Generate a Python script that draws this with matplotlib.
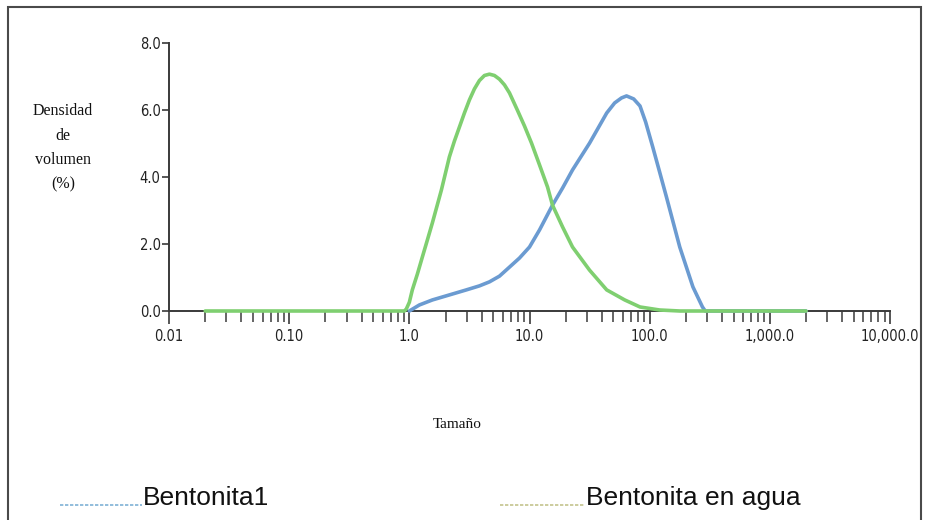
import matplotlib
matplotlib.use("Agg")
import matplotlib.pyplot as plt
from matplotlib.lines import Line2D
from matplotlib.patches import Rectangle

# Particle size distribution (size, volume density %)
bento_size = [1.0, 1.212, 1.555, 2.154, 2.98, 3.831, 4.642, 5.623, 6.813, 8.25, 10.0,
              12.12, 15.54, 18.84, 22.8, 31.6, 43.9, 51.1, 58.3, 64.2, 73.6, 83.1,
              92.6, 106, 121, 138, 178, 229, 275, 290, 2000]
bento_vol = [0.0, 0.18, 0.33, 0.48, 0.63, 0.75, 0.87, 1.04, 1.31, 1.58, 1.91,
             2.42, 3.16, 3.67, 4.21, 5.01, 5.91, 6.21, 6.36, 6.42, 6.33, 6.12,
             5.64, 4.90, 4.15, 3.40, 1.91, 0.72, 0.12, 0.0, 0.0]

agua_size = [0.02, 0.5, 0.909, 0.944, 1.0, 1.059, 1.166, 1.283, 1.413, 1.555, 1.848,
             2.154, 2.371, 2.61, 2.873, 3.162, 3.481, 3.831, 4.217, 4.642, 5.109,
             5.623, 6.19, 6.813, 7.943, 9.09, 10.4, 12.12, 14.13, 15.54, 18.84,
             22.8, 31.6, 43.9, 62.0, 83.1, 121, 178, 2000]
agua_vol = [0.0, 0.0, 0.0, 0.06, 0.26, 0.63, 1.10, 1.61, 2.12, 2.63, 3.61,
            4.60, 5.07, 5.49, 5.91, 6.30, 6.63, 6.88, 7.03, 7.07, 7.03,
            6.92, 6.75, 6.51, 5.99, 5.52, 5.01, 4.36, 3.70, 3.16, 2.51,
            1.91, 1.22, 0.63, 0.33, 0.12, 0.03, 0.0, 0.0]

xticks = [0.01, 0.1, 1, 10, 100, 1000, 10000]
xticklabels = ["0.01", "0.10", "1.0", "10.0", "100.0", "1,000.0", "10,000.0"]
yticks = [0, 2, 4, 6, 8]
yticklabels = ["0.0", "2.0", "4.0", "6.0", "8.0"]

axis_col = "#3a3a3a"
tick_font = dict(family="DejaVu Sans", stretch="condensed", size=10.5)

fig = plt.figure(figsize=(9.25, 5.2), dpi=100)
ax = fig.add_axes([169 / 925, 1 - 311 / 520, (890 - 169) / 925, (311 - 43) / 520])

ax.plot(bento_size, bento_vol, color="#6b9bd1", lw=2.6, solid_capstyle="round",
        solid_joinstyle="round", clip_on=False, zorder=3)
ax.plot(agua_size, agua_vol, color="#7fcf70", lw=2.6, solid_capstyle="round",
        solid_joinstyle="round", clip_on=False, zorder=4)

ax.set_xscale("log")
ax.set_xlim(0.01, 10000)
ax.set_ylim(0, 8)
ax.set_xticks(xticks)
ax.set_xticklabels(xticklabels, fontdict=tick_font, color="#222222")
ax.set_yticks(yticks)
ax.set_yticklabels(yticklabels, fontdict=tick_font, color="#222222")

minor = [m * d for d in xticks[:-1] for m in range(2, 10)]
ax.set_xticks(minor, minor=True)
ax.tick_params(axis="x", which="minor", length=8, width=1.1, color=axis_col)
ax.tick_params(axis="x", which="major", length=9, width=1.2, color=axis_col, pad=4)
ax.tick_params(axis="y", which="major", length=5, width=1.2, color=axis_col, pad=1)
ax.tick_params(axis="y", which="minor", length=0)

for side in ["top", "right"]:
    ax.spines[side].set_visible(False)
for side in ["left", "bottom"]:
    ax.spines[side].set_color(axis_col)
    ax.spines[side].set_linewidth(1.4)

# axis titles
fig.text(63 / 925, 1 - 148 / 520, "Densidad\nde\nvolumen\n(%)", ha="center", va="center",
         family="Liberation Serif", fontsize=11.5, linespacing=1.7, color="#111111")
fig.text(457 / 925, 1 - 424 / 520, "Tamaño", ha="center", va="center",
         family="Liberation Serif", fontsize=11, color="#111111")

# legend along the bottom
fig.add_artist(Line2D([60 / 925, 142 / 925], [1 - 505 / 520] * 2, transform=fig.transFigure,
                      color="#7fb1d6", lw=1.2, ls=(0, (2, 1))))
fig.text(143 / 925, 1 - 498 / 520, "Bentonita1", ha="left", va="center",
         family="Liberation Sans", fontsize=19, color="#111111")
fig.add_artist(Line2D([500 / 925, 585 / 925], [1 - 505 / 520] * 2, transform=fig.transFigure,
                      color="#c4c48e", lw=1.2, ls=(0, (2, 1))))
fig.text(586 / 925, 1 - 498 / 520, "Bentonita en agua", ha="left", va="center",
         family="Liberation Sans", fontsize=19, color="#111111")

# outer frame
fig.add_artist(Rectangle((8 / 925, -0.05), (921 - 8) / 925, 1.05 - 7 / 520,
                         transform=fig.transFigure, fill=False, edgecolor="#4a4a4a", lw=1.5))

fig.savefig("out.png", dpi=100)
